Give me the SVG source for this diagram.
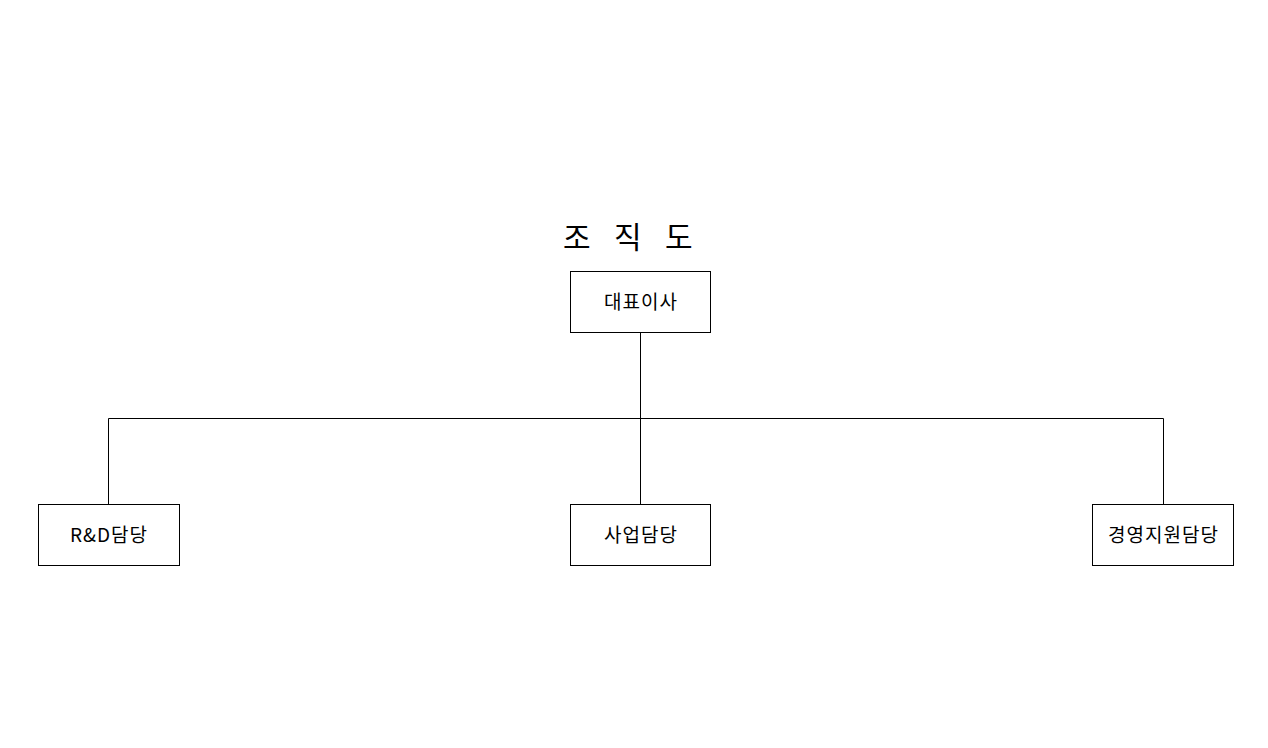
<svg xmlns="http://www.w3.org/2000/svg" width="1268" height="748" viewBox="0 0 1268 748">
<style>
.box{fill:#fff;stroke:#000;stroke-width:1}
.lbl{font-family:"Noto Sans CJK KR","Liberation Sans",sans-serif;font-size:19px;letter-spacing:1px;fill:#000;text-anchor:middle}
.ttl{font-family:"Noto Sans CJK KR","Liberation Sans",sans-serif;font-size:30px;fill:#000}
.con{stroke:#000;stroke-width:1;fill:none}
</style>
<rect width="1268" height="748" fill="#fff"/>
<text class="ttl" x="563" y="248">조</text>
<text class="ttl" x="614" y="248">직</text>
<text class="ttl" x="665" y="248">도</text>
<g id="connectors">
<path class="con" d="M640.5 333V418.5M108.5 504V418.5H1163.5V504M640.5 418.5V504"/>
</g>
<g id="ceo"><rect class="box" x="570.5" y="271.5" width="140" height="61"/><text class="lbl" x="641" y="309">대표이사</text></g>
<g id="rnd"><rect class="box" x="38.5" y="504.5" width="141" height="61"/><text class="lbl" x="109" y="542">R&amp;D담당</text></g>
<g id="biz"><rect class="box" x="570.5" y="504.5" width="140" height="61"/><text class="lbl" x="641" y="542">사업담당</text></g>
<g id="mgmt"><rect class="box" x="1092.5" y="504.5" width="141" height="61"/><text class="lbl" x="1163.5" y="542">경영지원담당</text></g>
</svg>
